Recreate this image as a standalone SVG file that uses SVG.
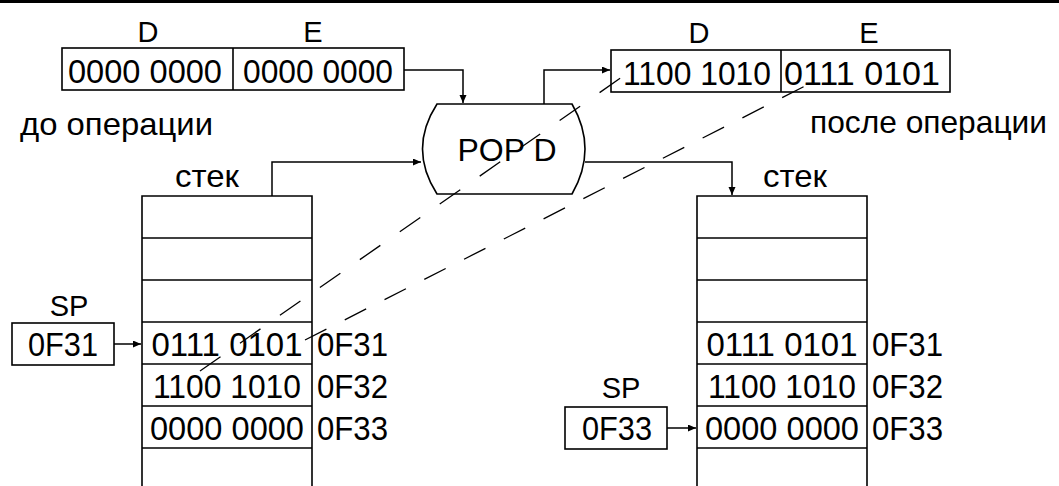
<svg xmlns="http://www.w3.org/2000/svg" width="1059" height="486" viewBox="0 0 1059 486">
<style>
  text { font-family: "Liberation Sans", Arial, sans-serif; fill: #000; }
  .v { font-size: 34px; text-anchor: middle; }
  .a { font-size: 33px; }
  .lbl { font-size: 29px; text-anchor: middle; }
  .t { font-size: 32px; }
  .box { fill: #fff; stroke: #000; stroke-width: 1.6; }
  .ln { fill: none; stroke: #000; stroke-width: 1.6; }
  .con { fill: none; stroke: #000; stroke-width: 1.5; }
  .dash { fill: none; stroke: #000; stroke-width: 1.3; }
</style>
<defs>
  <marker id="arr" markerUnits="userSpaceOnUse" markerWidth="9" markerHeight="8" refX="8" refY="3.5" orient="auto">
    <path d="M0,0 L8,3.5 L0,7 Z" fill="#000"/>
  </marker>
</defs>
<rect width="1059" height="486" fill="#fff"/>
<line x1="0" y1="1.5" x2="1059" y2="1.5" stroke="#000" stroke-width="3"/>

<g id="reg-before">
  <text class="lbl" x="148" y="42">D</text>
  <text class="lbl" x="313" y="42">E</text>
  <rect class="box" x="62" y="48" width="342" height="42"/>
  <line class="ln" x1="233" y1="48" x2="233" y2="90"/>
  <text class="v" x="145" y="83" textLength="154" lengthAdjust="spacingAndGlyphs">0000 0000</text>
  <text class="v" x="318" y="83" textLength="150" lengthAdjust="spacingAndGlyphs">0000 0000</text>
</g>

<g id="label-before">
  <text class="t" x="20" y="135" textLength="193" lengthAdjust="spacingAndGlyphs">до операции</text>
</g>

<g id="reg-after">
  <text class="lbl" x="699" y="43">D</text>
  <text class="lbl" x="869" y="43">E</text>
  <rect class="box" x="611" y="50" width="339" height="42"/>
  <line class="ln" x1="781" y1="50" x2="781" y2="92"/>
  <text class="v" x="697" y="85" textLength="148" lengthAdjust="spacingAndGlyphs">1100 1010</text>
  <text class="v" x="862" y="85" textLength="156" lengthAdjust="spacingAndGlyphs">0111 0101</text>
</g>

<g id="label-after">
  <text class="t" x="810" y="133" textLength="237" lengthAdjust="spacingAndGlyphs">после операции</text>
</g>

<g id="pop-d">
  <path class="box" d="M437,104 H572 Q598,149 572,194 H437 Q408,149 437,104 Z"/>
  <text class="t" x="507" y="161" text-anchor="middle">POP D</text>
</g>

<g id="stack-before">
  <text class="t" x="175" y="187" textLength="64" lengthAdjust="spacingAndGlyphs">стек</text>
  <path class="ln" d="M142,486 V196 H312 V486"/>
  <line class="ln" x1="142" y1="238" x2="312" y2="238"/>
  <line class="ln" x1="142" y1="280" x2="312" y2="280"/>
  <line class="ln" x1="142" y1="322" x2="312" y2="322"/>
  <line class="ln" x1="142" y1="364" x2="312" y2="364"/>
  <line class="ln" x1="142" y1="406" x2="312" y2="406"/>
  <line class="ln" x1="142" y1="448" x2="312" y2="448"/>
  <text class="v" x="227" y="356" textLength="151" lengthAdjust="spacingAndGlyphs">0111 0101</text>
  <text class="v" x="227" y="398" textLength="148" lengthAdjust="spacingAndGlyphs">1100 1010</text>
  <text class="v" x="227" y="440" textLength="154" lengthAdjust="spacingAndGlyphs">0000 0000</text>
  <text class="a" x="317" y="356" textLength="71" lengthAdjust="spacingAndGlyphs">0F31</text>
  <text class="a" x="317" y="398" textLength="71" lengthAdjust="spacingAndGlyphs">0F32</text>
  <text class="a" x="317" y="440" textLength="71" lengthAdjust="spacingAndGlyphs">0F33</text>
</g>

<g id="sp-before">
  <text class="lbl" x="69" y="316">SP</text>
  <rect class="box" x="12" y="323" width="102" height="42"/>
  <text class="v" x="63" y="356" textLength="70" lengthAdjust="spacingAndGlyphs">0F31</text>
</g>

<g id="stack-after">
  <text class="t" x="763" y="187" textLength="64" lengthAdjust="spacingAndGlyphs">стек</text>
  <path class="ln" d="M697,486 V196 H867 V486"/>
  <line class="ln" x1="697" y1="238" x2="867" y2="238"/>
  <line class="ln" x1="697" y1="280" x2="867" y2="280"/>
  <line class="ln" x1="697" y1="322" x2="867" y2="322"/>
  <line class="ln" x1="697" y1="364" x2="867" y2="364"/>
  <line class="ln" x1="697" y1="406" x2="867" y2="406"/>
  <line class="ln" x1="697" y1="448" x2="867" y2="448"/>
  <text class="v" x="782" y="356" textLength="151" lengthAdjust="spacingAndGlyphs">0111 0101</text>
  <text class="v" x="782" y="398" textLength="148" lengthAdjust="spacingAndGlyphs">1100 1010</text>
  <text class="v" x="782" y="440" textLength="154" lengthAdjust="spacingAndGlyphs">0000 0000</text>
  <text class="a" x="872" y="356" textLength="71" lengthAdjust="spacingAndGlyphs">0F31</text>
  <text class="a" x="872" y="398" textLength="71" lengthAdjust="spacingAndGlyphs">0F32</text>
  <text class="a" x="872" y="440" textLength="71" lengthAdjust="spacingAndGlyphs">0F33</text>
</g>

<g id="sp-after">
  <text class="lbl" x="621" y="398">SP</text>
  <rect class="box" x="565" y="407" width="102" height="42"/>
  <text class="v" x="617" y="440" textLength="70" lengthAdjust="spacingAndGlyphs">0F33</text>
</g>

<g id="connectors">
  <path class="con" d="M404,70 H463 V103" marker-end="url(#arr)"/>
  <path class="con" d="M272,196 V162 H421" marker-end="url(#arr)"/>
  <path class="con" d="M544,104 V70 H610" marker-end="url(#arr)"/>
  <path class="con" d="M585,162 H732 V195" marker-end="url(#arr)"/>
  <path class="con" d="M114,344 H141" marker-end="url(#arr)"/>
  <path class="con" d="M667,428 H696" marker-end="url(#arr)"/>
  <line class="dash" x1="200" y1="371" x2="622" y2="77" stroke-dasharray="25 23.7"/>
  <line class="dash" x1="305" y1="340" x2="807" y2="85" stroke-dasharray="24 20.6"/>
</g>
</svg>
